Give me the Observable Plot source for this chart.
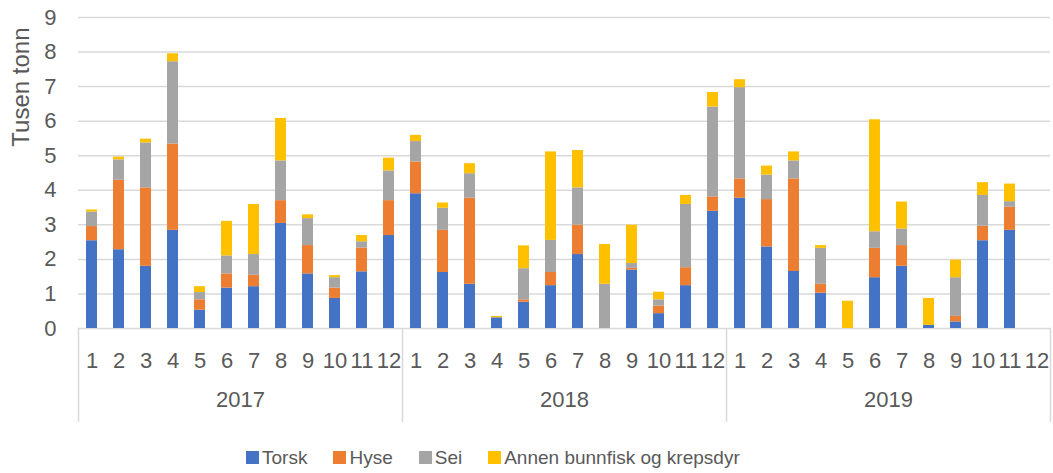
<!DOCTYPE html>
<html><head><meta charset="utf-8">
<script src="https://cdn.jsdelivr.net/npm/d3@7"></script>
<script src="https://cdn.jsdelivr.net/npm/@observablehq/plot@0.6"></script>
<style>
body{margin:0;background:#fff;font-family:"Liberation Sans",Arial,sans-serif;}
#wrap{width:1053px;height:473px;position:relative;overflow:hidden;background:#fff}
#chart{position:absolute;left:0;top:0}
#legend{position:absolute;left:246px;top:441px}
#legend .lg, #legend .lg-swatch{font-size:19px !important;color:#595959 !important;}
body .lg-swatch{margin-right:26px;}
body .lg-swatch > svg{margin-right:3px;}
</style></head><body><div id="wrap"><div id="chart"></div><div id="legend"></div></div>
<script>
const years = [2017, 2018, 2019];
const months = [1,2,3,4,5,6,7,8,9,10,11,12];
const series = ["Torsk", "Hyse", "Sei", "Annen bunnfisk og krepsdyr"];
const colors = ["#4472C4", "#ED7D31", "#A5A5A5", "#FFC000"];
const yTicks = [0,1,2,3,4,5,6,7,8,9];
const yLabel = "Tusen tonn";

// values per month, 2017-01 .. 2019-12 (thousand tonnes)
const torsk = [2.54,2.28,1.80,2.84,0.53,1.17,1.21,3.04,1.58,0.87,1.64,2.69,
               3.90,1.62,1.28,0.31,0.76,1.24,2.14,0.00,1.69,0.43,1.24,3.39,
               3.77,2.36,1.65,1.02,0.00,1.47,1.80,0.09,0.19,2.54,2.84,0.00];
const hyse  = [0.41,2.01,2.27,2.50,0.30,0.41,0.33,0.66,0.82,0.30,0.69,1.01,
               0.92,1.22,2.49,0.00,0.07,0.38,0.85,0.00,0.05,0.22,0.52,0.42,
               0.56,1.37,2.68,0.26,0.00,0.85,0.60,0.00,0.16,0.42,0.67,0.00];
const sei   = [0.42,0.59,1.30,2.38,0.21,0.52,0.60,1.15,0.78,0.30,0.18,0.86,
               0.59,0.64,0.71,0.00,0.90,0.93,1.08,1.28,0.14,0.18,1.83,2.60,
               2.64,0.71,0.52,1.04,0.00,0.48,0.48,0.00,1.12,0.89,0.16,0.00];
const annen = [0.06,0.08,0.11,0.23,0.17,1.00,1.45,1.23,0.11,0.06,0.18,0.37,
               0.18,0.15,0.29,0.04,0.66,2.56,1.08,1.15,1.11,0.22,0.26,0.42,
               0.23,0.26,0.26,0.08,0.79,3.24,0.78,0.78,0.51,0.37,0.51,0.00];

const valuesBySeries = [torsk, hyse, sei, annen];
const rows = [];
years.forEach((yr, yi) => months.forEach((m, mi) => {
  series.forEach((s, si) => {
    rows.push({year: yr, month: m, series: s, value: valuesBySeries[si][yi * 12 + mi]});
  });
}));

const W = 1053, H = 440, mL = 78, mR = 3, mT = 17, mB = 112;
const step = (W - mL - mR) / (years.length * months.length);
const font = '"Liberation Sans", Arial, sans-serif';
const lineColor = "#d9d9d9";

const chart = Plot.plot({
  width: W, height: H,
  marginLeft: mL, marginRight: mR, marginTop: mT, marginBottom: mB,
  style: {fontFamily: font, color: "#595959", background: "#fff", overflow: "visible"},
  fx: {domain: years, padding: 0, axis: null},
  x: {domain: months, paddingInner: 0.6, paddingOuter: 0.3, axis: null},
  y: {domain: [0, 9], axis: null},
  color: {domain: series, range: colors},
  marks: [
    Plot.gridY(yTicks, {stroke: lineColor, strokeOpacity: 1, strokeWidth: 1.5}),
    Plot.barY(rows, {fx: "year", x: "month", y: "value", fill: "series", order: series}),
    Plot.axisY(yTicks, {tickSize: 0, tickPadding: 22, fontSize: 22, label: null}),
    Plot.axisX({tickSize: 0, tickPadding: 24, fontSize: 22, label: null}),
    Plot.text(years, {fx: d => d, text: d => String(d), frameAnchor: "bottom", dy: 78, fontSize: 22, fill: "#595959"}),
    Plot.ruleX(years, {fx: d => d, x: () => months[0], dx: -step / 2, insetTop: H - mT - mB, insetBottom: -94, stroke: lineColor, strokeWidth: 1.5}),
    Plot.ruleX([years[years.length - 1]], {fx: d => d, x: () => months[months.length - 1], dx: step / 2, insetTop: H - mT - mB, insetBottom: -94, stroke: lineColor, strokeWidth: 1.5}),
    Plot.text([yLabel], {fx: () => years[0], text: d => d, frameAnchor: "top-left", rotate: -90, textAnchor: "end", dx: -67, dy: 10, fontSize: 24, fill: "#595959"})
  ]
});
document.getElementById("chart").appendChild(chart);

const legend = Plot.legend({
  legend: "swatches",
  color: {domain: series, range: colors},
  swatchSize: 13,
  className: "lg",
  style: {fontSize: "19px", fontFamily: font, color: "#595959"}
});
document.getElementById("legend").appendChild(legend);
</script>
</body></html>
